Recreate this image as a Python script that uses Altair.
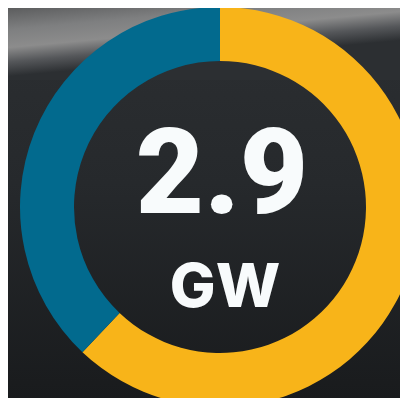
import altair as alt
import pandas as pd

# Data
categories = ["A", "B"]
values = [1.8, 1.1]
order = [1, 2]
colors = ["#F8B419", "#026A8E"]
total_label = "2.9"
unit_label = "GW"

W, H = 392, 390
CX, CY = 212, 199

df = pd.DataFrame({"category": categories, "value": values, "order": order})

bg = alt.Chart(pd.DataFrame({"a": [0]})).mark_rect(
    color=alt.Gradient(
        gradient="linear", x1=0, y1=0, x2=0, y2=1,
        stops=[alt.GradientStop(offset=0, color="#2c2f32"),
               alt.GradientStop(offset=0.45, color="#26292c"),
               alt.GradientStop(offset=1, color="#191b1d")],
    )
).encode(x=alt.value(0), x2=alt.value(W), y=alt.value(0), y2=alt.value(H))

band = alt.Chart(pd.DataFrame({"a": [0]})).mark_rect(
    color=alt.Gradient(
        gradient="linear", x1=0, y1=0, x2=0.4, y2=0.8,
        stops=[alt.GradientStop(offset=0, color="#5c5d5e"),
               alt.GradientStop(offset=0.3, color="#7e7f80"),
               alt.GradientStop(offset=0.55, color="#8c8c8c"),
               alt.GradientStop(offset=0.75, color="#55575a"),
               alt.GradientStop(offset=0.95, color="#2c2f32"),
               alt.GradientStop(offset=1.5, color="#2c2f32")],
    )
).encode(x=alt.value(0), x2=alt.value(W), y=alt.value(0), y2=alt.value(72))

donut = alt.Chart(df).mark_arc(outerRadius=200, innerRadius=146).encode(
    theta=alt.Theta("value:Q", stack=True),
    order=alt.Order("order:Q"),
    color=alt.Color("category:N", scale=alt.Scale(domain=categories, range=colors), legend=None),
    x=alt.value(CX),
    y=alt.value(CY),
)

big = alt.Chart(pd.DataFrame({"t": [total_label]})).mark_text(
    font="Roboto", fontWeight=900, fontSize=118, color="#F8FBFC",
    align="center", baseline="alphabetic",
).encode(text="t:N", x=alt.value(CX + 2), y=alt.value(205))

unit = alt.Chart(pd.DataFrame({"t": [unit_label]})).mark_text(
    font="Inter", fontWeight=800, fontSize=61, color="#F8FBFC",
    align="center", baseline="alphabetic",
).encode(text="t:N", x=alt.value(CX + 5), y=alt.value(299))

chart = alt.layer(bg, band, donut, big, unit).properties(
    width=W, height=H, padding=0, autosize=alt.AutoSizeParams(type="none"),
    background="#1d1f21",
).configure_view(stroke=None)

chart.save("out.html", embed_options={"renderer": "svg", "actions": False})
